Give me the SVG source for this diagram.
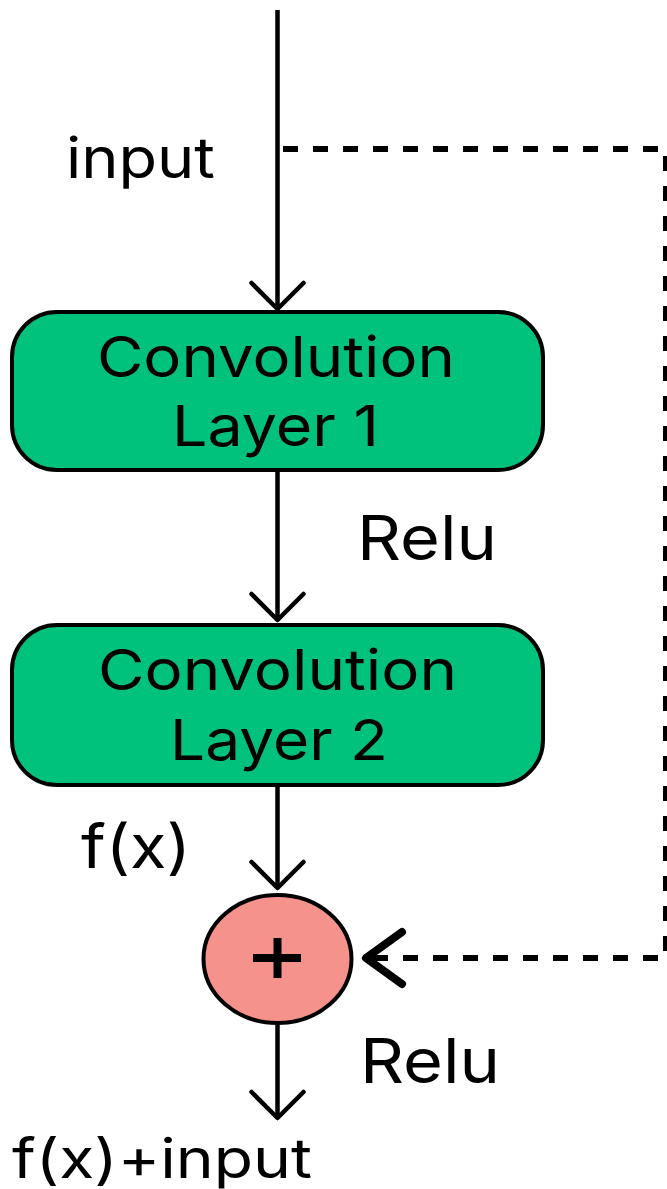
<svg xmlns="http://www.w3.org/2000/svg" width="667" height="1189" viewBox="0 0 667 1189">
<style>
  .box { fill: #00C27C; stroke: #000; stroke-width: 4; }
  .sum { fill: #F5928C; stroke: #000; stroke-width: 4; }
  .t { font-family: Inter, "Noto Sans", "Liberation Sans", sans-serif; fill: #000; }
  .wire { fill: none; stroke: #000; stroke-width: 4.5; }
  .dash { fill: none; stroke: #000; stroke-width: 6; stroke-dasharray: 15 15; }
</style>
<defs>
  <marker id="chev" viewBox="-32 -32 36 64" markerWidth="36" markerHeight="64" refX="0" refY="0" markerUnits="userSpaceOnUse" orient="auto" overflow="visible">
    <path d="M-26,-26 L0,0 L-26,26" fill="none" stroke="#000" stroke-width="4.5" stroke-linecap="round" stroke-linejoin="round"/>
  </marker>
  <marker id="chevBold" viewBox="-44 -34 50 68" markerWidth="50" markerHeight="68" refX="0" refY="0" markerUnits="userSpaceOnUse" orient="auto" overflow="visible">
    <path d="M-36,-26 L0,0 L-36,26" fill="none" stroke="#000" stroke-width="8" stroke-linecap="round" stroke-linejoin="round"/>
  </marker>
</defs>
<rect width="667" height="1189" fill="#fff"/>

<g id="connectors">
  <line class="wire" x1="277.5" y1="10" x2="277.5" y2="309" marker-end="url(#chev)"/>
  <line class="wire" x1="277.5" y1="470" x2="277.5" y2="620" marker-end="url(#chev)"/>
  <line class="wire" x1="277.5" y1="785" x2="277.5" y2="888" marker-end="url(#chev)"/>
  <line class="wire" x1="277.5" y1="1023" x2="277.5" y2="1118" marker-end="url(#chev)"/>
  <path class="dash" d="M283 149 H666 V958 H366" marker-end="url(#chevBold)"/>
</g>

<g id="label-input"><text class="t" x="66" y="178" font-size="56" textLength="149" lengthAdjust="spacingAndGlyphs">input</text></g>

<g id="conv1">
  <rect class="box" x="12" y="312" width="531" height="158" rx="45" ry="45"/>
  <text class="t" x="97" y="377" font-size="56" textLength="358" lengthAdjust="spacingAndGlyphs">Convolution</text>
  <text class="t" x="172" y="446" font-size="56" textLength="207" lengthAdjust="spacingAndGlyphs">Layer 1</text>
</g>

<g id="label-relu1"><text class="t" x="357" y="560" font-size="62" textLength="140" lengthAdjust="spacingAndGlyphs">Relu</text></g>

<g id="conv2">
  <rect class="box" x="12" y="625" width="531" height="160" rx="45" ry="45"/>
  <text class="t" x="98" y="690" font-size="56" textLength="359" lengthAdjust="spacingAndGlyphs">Convolution</text>
  <text class="t" x="170" y="760" font-size="56" textLength="218" lengthAdjust="spacingAndGlyphs">Layer 2</text>
</g>

<g id="label-fx"><text class="t" x="81" y="868" font-size="60" textLength="110" lengthAdjust="spacingAndGlyphs">f(x)</text></g>

<g id="sum">
  <ellipse class="sum" cx="277.5" cy="959" rx="74" ry="64"/>
  <rect x="253" y="954" width="48" height="8" fill="#000"/>
  <rect x="273.5" y="938" width="8" height="40" fill="#000"/>
</g>

<g id="label-relu2"><text class="t" x="360" y="1083" font-size="62" textLength="140" lengthAdjust="spacingAndGlyphs">Relu</text></g>

<g id="label-out"><text class="t" x="12" y="1178" font-size="55" textLength="300" lengthAdjust="spacingAndGlyphs">f(x)+input</text></g>
</svg>
